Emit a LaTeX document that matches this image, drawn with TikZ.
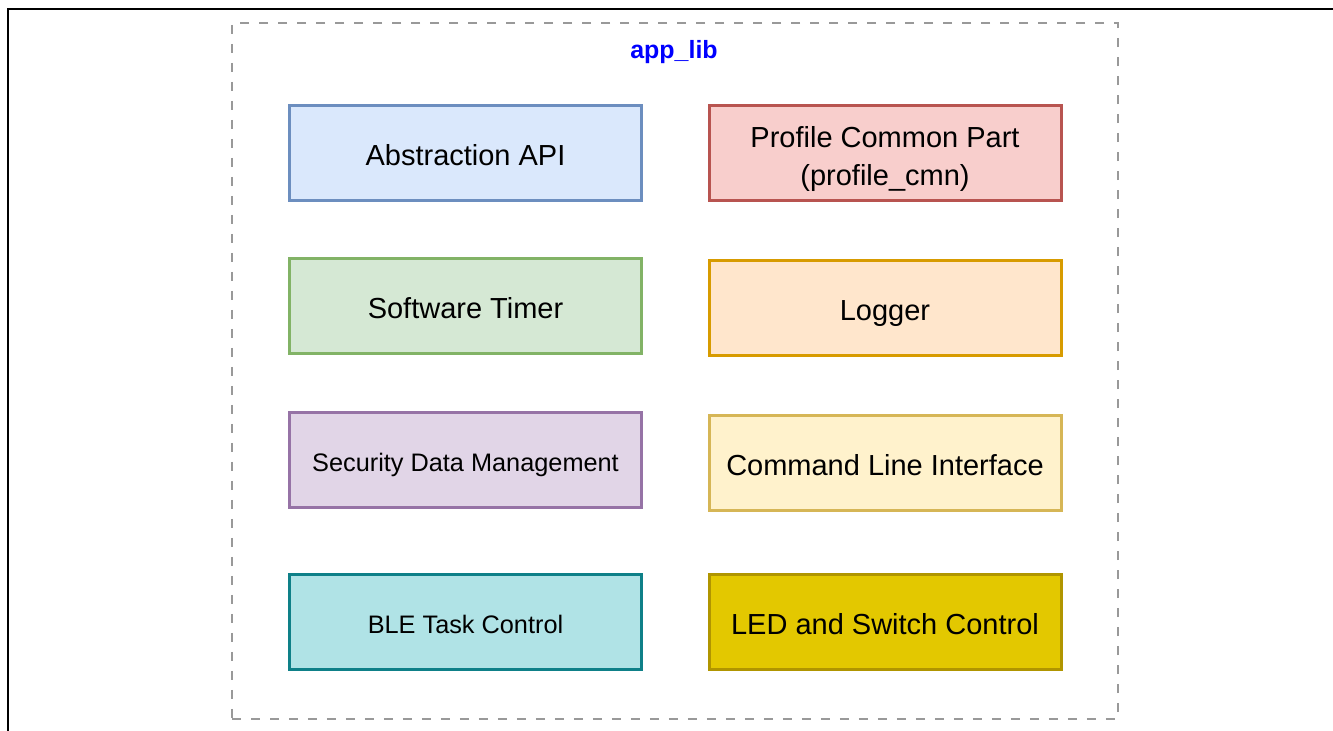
\documentclass[tikz,border=0pt]{standalone}
\usepackage{fontspec}
\setmainfont{Liberation Sans}
\usepackage{tikz}
\usetikzlibrary{positioning}

\definecolor{apiFill}{HTML}{DAE8FC}   \definecolor{apiLine}{HTML}{6C8EBF}
\definecolor{cmnFill}{HTML}{F8CECC}   \definecolor{cmnLine}{HTML}{B85450}
\definecolor{timFill}{HTML}{D5E8D4}   \definecolor{timLine}{HTML}{82B366}
\definecolor{logFill}{HTML}{FFE6CC}   \definecolor{logLine}{HTML}{D79B00}
\definecolor{secFill}{HTML}{E1D5E7}   \definecolor{secLine}{HTML}{9673A6}
\definecolor{cliFill}{HTML}{FFF2CC}   \definecolor{cliLine}{HTML}{D6B656}
\definecolor{bleFill}{HTML}{B0E3E6}   \definecolor{bleLine}{HTML}{0E8088}
\definecolor{ledFill}{HTML}{E3C800}   \definecolor{ledLine}{HTML}{B09500}
\definecolor{groupGray}{HTML}{999999}

\begin{document}
\begin{tikzpicture}[
    block/.style={rectangle, draw=black, line width=0.06cm, minimum width=7.04cm,
                  minimum height=1.9cm, align=center, text height=14.2pt, text depth=0.2pt,
                  font=\fontsize{16.5}{21.8}\selectfont},
    smallblock/.style={block, text height=12.6pt, font=\fontsize{14.4}{17}\selectfont},
    twoline/.style={block, text height=37.3pt},
    group/.style={rectangle, draw=groupGray, line width=0.05cm,
                  dash pattern=on 0.18cm off 0.2cm, minimum width=17.72cm, minimum height=13.92cm},
    title/.style={font=\fontsize{14.2}{17}\selectfont\bfseries, text=blue}
]
    \useasboundingbox (0,0) rectangle (26.66,-14.62);

    % Frame
    \draw[line width=0.05cm] (0.16,-14.7) -- (0.16,-0.18) -- (26.7,-0.18);

    % Group
    \node[group] (applib) at (13.5, -7.42) {};
    \node[title] (applibtitle) at (13.48, -1.04) {app\_lib};

    % Left column
    \node[block, fill=apiFill, draw=apiLine] (api) at (9.31, -3.06) {Abstraction API};
    \node[block, fill=timFill, draw=timLine] (timer) at (9.31, -6.13) {Software Timer};
    \node[smallblock, fill=secFill, draw=secLine] (sec) at (9.31, -9.21) {Security Data Management};
    \node[smallblock, fill=bleFill, draw=bleLine] (ble) at (9.31, -12.45) {BLE Task Control};

    % Right column
    \node[twoline, fill=cmnFill, draw=cmnLine] (cmn) at (17.7, -3.06) {Profile Common Part\\(profile\_cmn)};
    \node[block, fill=logFill, draw=logLine] (logger) at (17.7, -6.16) {Logger};
    \node[block, fill=cliFill, draw=cliLine] (cli) at (17.7, -9.27) {Command Line Interface};
    \node[block, fill=ledFill, draw=ledLine] (led) at (17.7, -12.45) {LED and Switch Control};

\end{tikzpicture}
\end{document}
